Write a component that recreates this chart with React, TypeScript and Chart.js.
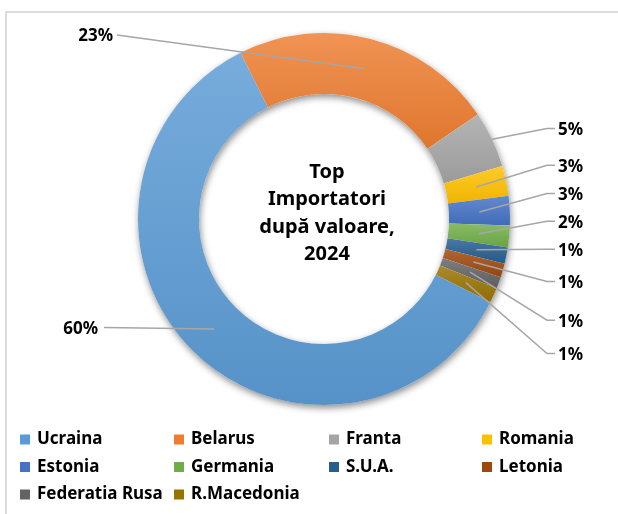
import React, { useEffect, useRef } from 'react';
import { Chart, registerables } from 'chart.js';

Chart.register(...registerables);

const categories = ['Ucraina', 'Belarus', 'Franta', 'Romania', 'Estonia', 'Germania', 'S.U.A.', 'Letonia', 'Federatia Rusa', 'R.Macedonia'];
const shares = [60.2, 22.9, 4.9, 2.6, 2.55, 1.9, 1.4, 1.2, 1.0, 1.3];
const colors = ['#5B9BD5', '#ED7D31', '#A5A5A5', '#FFC000', '#4472C4', '#70AD47', '#255E91', '#9E480E', '#636363', '#997300'];
const centerTitle = ['Top', 'Importatori', 'după valoare,', '2024'];

const FONT = '"Noto Sans", "Open Sans", sans-serif';
const ROTATION = 116.5;
const CUTOUT = 0.672;

function hexToRgb(h: string) {
  const n = parseInt(h.slice(1), 16);
  return [(n >> 16) & 255, (n >> 8) & 255, n & 255];
}
function mix(a: string, b: string, t: number) {
  const A = hexToRgb(a), B = hexToRgb(b);
  const c = A.map((v, i) => Math.round(v + (B[i] - v) * t));
  return `rgb(${c[0]},${c[1]},${c[2]})`;
}

// label layout (relative to donut centre)
const labelLayout: any[] = [
  { side: 'L', tx: -226, ty: 110, lx: -220, ly: 108.5 },
  { side: 'L', tx: -211, ty: -182.5, lx: -207, ly: -184 },
  { side: 'R', ty: -89 },
  { side: 'R', ty: -52.3 },
  { side: 'R', ty: -24 },
  { side: 'R', ty: 3.7 },
  { side: 'R', ty: 31.7 },
  { side: 'R', ty: 64 },
  { side: 'R', ty: 102.7 },
  { side: 'R', ty: 136 },
];

const total = shares.reduce((a, b) => a + b, 0);

function sliceGradient(c: any) {
  const i = c.dataIndex;
  const chart = c.chart;
  const area = chart.chartArea;
  if (!area || c.type !== 'data') return colors[i];
  const cx = (area.left + area.right) / 2;
  const cy = (area.top + area.bottom) / 2;
  const R = Math.min(area.width, area.height) / 2;
  const r = R * CUTOUT;
  let before = 0;
  for (let k = 0; k < i; k++) before += shares[k];
  const s = (ROTATION - 90) * Math.PI / 180 + (before / total) * Math.PI * 2;
  const e = s + (shares[i] / total) * Math.PI * 2;
  let minY = Infinity, maxY = -Infinity;
  for (let k = 0; k <= 40; k++) {
    const a = s + (e - s) * k / 40;
    for (const rr of [r, R]) {
      const y = cy + rr * Math.sin(a);
      if (y < minY) minY = y;
      if (y > maxY) maxY = y;
    }
  }
  if (maxY - minY < 1) maxY = minY + 1;
  const g = chart.ctx.createLinearGradient(0, minY, 0, maxY);
  g.addColorStop(0, mix(colors[i], '#ffffff', 0.17));
  g.addColorStop(1, mix(colors[i], '#000000', 0.06));
  return g;
}

const shadowPlugin = {
  id: 'ringShadow',
  beforeDatasetsDraw(chart: any) {
    const arcs = chart.getDatasetMeta(0).data;
    if (!arcs.length) return;
    const p = arcs[0].getProps(['x', 'y', 'innerRadius', 'outerRadius'], true);
    const ctx = chart.ctx;
    ctx.save();
    ctx.beginPath();
    ctx.moveTo(p.x + p.outerRadius, p.y);
    ctx.arc(p.x, p.y, p.outerRadius, 0, Math.PI * 2);
    ctx.moveTo(p.x + p.innerRadius, p.y);
    ctx.arc(p.x, p.y, p.innerRadius, 0, Math.PI * 2);
    ctx.shadowColor = 'rgba(0,0,0,0.45)';
    ctx.shadowBlur = 7;
    ctx.shadowOffsetX = 1;
    ctx.shadowOffsetY = 3;
    ctx.fillStyle = '#ffffff';
    ctx.fill('evenodd');
    ctx.restore();
  },
};

const labelsPlugin = {
  id: 'outLabels',
  afterDatasetsDraw(chart: any) {
    const arcs = chart.getDatasetMeta(0).data;
    if (!arcs.length) return;
    const ctx = chart.ctx;
    const c0 = arcs[0].getProps(['x', 'y'], true);
    const cx = c0.x, cy = c0.y;
    ctx.save();
    // centre title
    ctx.fillStyle = '#000';
    ctx.font = `bold 20px ${FONT}`;
    ctx.textAlign = 'center';
    ctx.textBaseline = 'alphabetic';
    centerTitle.forEach((t, k) => {
      ctx.fillText(t, cx + 3, cy - 41 + k * 27.3);
    });
    // outer labels
    arcs.forEach((arc: any, i: number) => {
      const p = arc.getProps(['startAngle', 'endAngle', 'innerRadius', 'outerRadius'], true);
      const mid = (p.startAngle + p.endAngle) / 2;
      const rr = i === 2 ? p.outerRadius : (p.innerRadius + p.outerRadius) / 2;
      const ax = cx + rr * Math.cos(mid);
      const ay = cy + rr * Math.sin(mid);
      const L = labelLayout[i];
      const txt = Math.round((shares[i] / total) * 100) + '%';
      ctx.strokeStyle = '#A6A6A6';
      ctx.lineWidth = 1.5;
      ctx.beginPath();
      ctx.font = `bold 17px ${FONT}`;
      ctx.textBaseline = 'middle';
      ctx.fillStyle = '#000';
      if (L.side === 'R') {
        const ly = cy + L.ty - 1.5;
        ctx.moveTo(ax, ay);
        ctx.lineTo(cx + 223, ly);
        ctx.lineTo(cx + 231, ly);
        ctx.stroke();
        ctx.textAlign = 'left';
        ctx.fillText(txt, cx + 234, cy + L.ty);
      } else {
        ctx.moveTo(ax, ay);
        ctx.lineTo(cx + L.lx, cy + L.ly);
        ctx.stroke();
        ctx.textAlign = 'right';
        ctx.fillText(txt, cx + L.tx, cy + L.ty);
      }
    });
    ctx.restore();
  },
};

const legendCols = [20, 174, 329, 482];
const legendRows = [439.5, 467, 494.5];

const legendPlugin = {
  id: 'gridLegend',
  afterDraw(chart: any) {
    const ctx = chart.ctx;
    ctx.save();
    ctx.font = `bold 17px ${FONT}`;
    ctx.textBaseline = 'middle';
    ctx.textAlign = 'left';
    categories.forEach((name, i) => {
      const x = legendCols[i % 4];
      const y = legendRows[Math.floor(i / 4)];
      ctx.fillStyle = colors[i];
      ctx.fillRect(x, y - 5, 10, 10);
      ctx.fillStyle = '#000';
      ctx.fillText(name, x + 17, y);
    });
    ctx.restore();
  },
};

export default function App() {
  const ref = useRef<HTMLCanvasElement | null>(null);
  useEffect(() => {
    if (!ref.current) return;
    const chart = new Chart(ref.current, {
      type: 'doughnut',
      data: {
        labels: categories,
        datasets: [{
          data: shares,
          backgroundColor: sliceGradient as any,
          borderWidth: 0,
          hoverOffset: 0,
          offset: 0,
        }],
      },
      options: {
        responsive: false,
        animation: false,
        rotation: ROTATION,
        cutout: `${CUTOUT * 100}%`,
        layout: { padding: { left: 100, right: 70, top: 33, bottom: 109 } },
        plugins: {
          legend: { display: false },
          tooltip: { enabled: false },
          title: { display: false },
        },
        events: [],
      },
      plugins: [shadowPlugin, labelsPlugin, legendPlugin],
    });
    return () => chart.destroy();
  }, []);
  return (
    <div style={{ position: 'fixed', left: 0, top: 0, width: 618, height: 514, overflow: 'hidden', background: '#fff' }}>
      <div style={{ position: 'absolute', left: 5, top: 11, width: 800, height: 800, borderLeft: '2px solid #dcdcdc', borderTop: '2px solid #dcdcdc' }} />
      <canvas ref={ref} width={618} height={514} style={{ position: 'absolute', left: 0, top: 0, width: 618, height: 514 }} />
    </div>
  );
}
